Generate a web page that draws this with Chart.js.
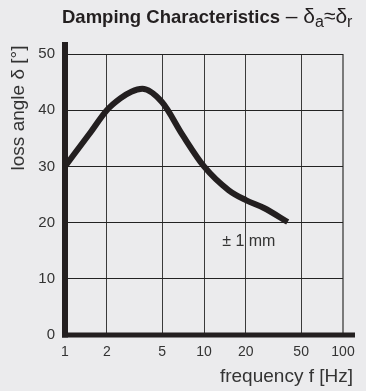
<!DOCTYPE html>
<html>
<head>
<meta charset="utf-8">
<script src="https://cdn.jsdelivr.net/npm/chart.js"></script>
<style>
    html, body { margin: 0; padding: 0; background: #ebebed; }
    #wrap { width: 366px; height: 391px; position: relative; }
</style>
</head>
<body>
<div id="wrap"><canvas id="dampChart" width="366" height="391"></canvas></div>
<script>
// values
const frequencies = [1, 1.5, 2, 2.5, 3, 3.6, 5, 7, 10, 15, 20, 27, 40];
const lossAngles = [30, 35.8, 40, 42.1, 43.3, 43.8, 41.4, 35.6, 30, 25.8, 24, 22.6, 20.1];
const xTicks = [1, 2, 5, 10, 20, 50, 100];
const yTicks = [0, 10, 20, 30, 40, 50];
const noteText = '± 1 mm';
const notePos = [21, 16.6]; // frequency, angle

const FONT = '"Liberation Sans", Arial, Helvetica, sans-serif';
const INK = '#231f20';

// title, axis titles, thick axes
const decorPlugin = {
    id: 'decor',
    afterDraw(chart) {
        const { ctx, scales: { x, y } } = chart;
        const x0 = x.getPixelForValue(1);
        const xEnd = x.getPixelForValue(100);
        const y0 = y.getPixelForValue(0);
        const yTop = y.getPixelForValue(50);

        ctx.save();
        ctx.fillStyle = INK;
        ctx.fillRect(x0 - 3, yTop - 12, 6, y0 - yTop + 14.5);
        ctx.fillRect(x0 - 3, y0 - 2.5, xEnd + 12 - (x0 - 3), 5);

        // note
        ctx.fillStyle = '#333';
        ctx.font = '16px ' + FONT;
        ctx.textAlign = 'center';
        ctx.textBaseline = 'middle';
        ctx.fillText(noteText, x.getPixelForValue(notePos[0]), y.getPixelForValue(notePos[1]));

        // title with subscripts
        const parts = [
            { t: 'Damping Characteristics', f: 'bold 18.5px ' + FONT, dy: 0 },
            { t: ' – δ', f: '21px ' + FONT, dy: 0 },
            { t: 'a', f: '16px ' + FONT, dy: 4 },
            { t: '≈δ', f: '21px ' + FONT, dy: 0 },
            { t: 'r', f: '16px ' + FONT, dy: 4 }
        ];
        ctx.fillStyle = INK;
        ctx.textAlign = 'left';
        ctx.textBaseline = 'alphabetic';
        let tx = 62;
        parts.forEach(p => {
            ctx.font = p.f;
            ctx.fillText(p.t, tx, 23 + p.dy);
            tx += ctx.measureText(p.t).width;
        });

        // axis titles
        ctx.fillStyle = '#333';
        ctx.font = '19px ' + FONT;
        ctx.textAlign = 'right';
        ctx.fillText('frequency f [Hz]', 353, 382);

        ctx.translate(19, 108);
        ctx.rotate(-Math.PI / 2);
        ctx.textAlign = 'center';
        ctx.textBaseline = 'middle';
        ctx.fillText('loss angle δ [°]', 0, 0);
        ctx.restore();
    }
};

const chart = new Chart(document.getElementById('dampChart').getContext('2d'), {
    type: 'line',
    data: {
        datasets: [{
            data: frequencies.map((f, i) => ({ x: f, y: lossAngles[i] })),
            borderColor: INK,
            borderWidth: 6,
            pointRadius: 0,
            fill: false,
            cubicInterpolationMode: 'monotone'
        }]
    },
    options: {
        responsive: false,
        animation: false,
        devicePixelRatio: 1,
        layout: { padding: { left: 0, right: 23, top: 54, bottom: 0 } },
        plugins: {
            legend: { display: false },
            tooltip: { enabled: false },
            title: { display: false }
        },
        events: [],
        scales: {
            x: {
                type: 'logarithmic',
                min: 1,
                max: 100,
                afterBuildTicks: s => { s.ticks = xTicks.map(v => ({ value: v })); },
                afterFit: s => { s.height = 56; },
                ticks: {
                    autoSkip: false,
                    maxRotation: 0,
                    padding: 9,
                    color: '#333',
                    font: { family: FONT, size: 14 },
                    callback: v => String(v)
                },
                grid: {
                    drawTicks: false,
                    color: c => c.tick && c.tick.value === 100 ? '#7a7a7a' : '#3a3a3a',
                    lineWidth: c => c.tick && c.tick.value === 100 ? 2 : 1
                },
                border: { display: false }
            },
            y: {
                min: 0,
                max: 50,
                afterBuildTicks: s => { s.ticks = yTicks.map(v => ({ value: v })); },
                afterFit: s => { s.width = 65; },
                ticks: {
                    padding: 10,
                    color: '#333',
                    font: { family: FONT, size: 15 }
                },
                grid: {
                    drawTicks: false,
                    color: '#222',
                    lineWidth: 1
                },
                border: { display: false }
            }
        }
    },
    plugins: [decorPlugin]
});
</script>
</body>
</html>
